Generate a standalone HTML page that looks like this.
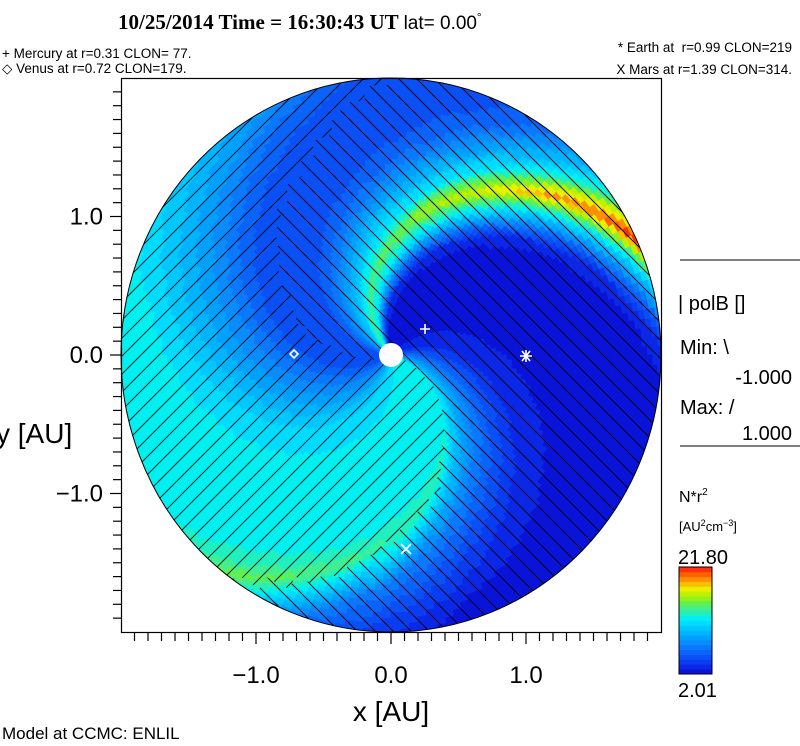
<!DOCTYPE html>
<html><head><meta charset="utf-8"><style>
body{margin:0;background:#fff;width:800px;height:746px;overflow:hidden;font-family:"Liberation Sans",sans-serif}
svg{position:absolute;left:0;top:0}
</style></head><body>
<svg id="chart" width="800" height="746" viewBox="0 0 800 746">
<defs>
<clipPath id="circ"><ellipse cx="391" cy="355" rx="270" ry="277"/></clipPath>
<clipPath id="clipA"></clipPath>
<clipPath id="clipB"></clipPath>
</defs>
<g id="cellsG" clip-path="url(#circ)"></g>
<g clip-path="url(#circ)">
<g id="hatchAG" clip-path="url(#clipA)"></g>
<g id="hatchBG" clip-path="url(#clipB)"></g>
</g>
<ellipse cx="391" cy="355" rx="270" ry="277" fill="none" stroke="#000" stroke-width="1"/>
<rect x="121.5" y="78.5" width="540" height="554" fill="none" stroke="#000" stroke-width="1.2"/>
<g id="ticksG" stroke="#000" stroke-width="1.2"></g>
<circle cx="391" cy="355" r="12" fill="#fff"/>
<g stroke="#fff" stroke-width="1.6" fill="none">
<path d="M420 329h10M425 324v10"/>
<path d="M294 350l4 4l-4 4l-4-4z"/>
<path d="M520 356h12M526 350v12M522 351l8 10M530 351l-8 10"/>
<path d="M401 544l10 10M411 544l-10 10"/>
</g>
<text x="118" y="29" font-family="Liberation Serif,serif" font-weight="bold" font-size="21">10/25/2014 Time = 16:30:43 UT <tspan font-family="Liberation Sans,sans-serif" font-weight="normal" font-size="19">lat= 0.00</tspan><tspan font-size="11" dy="-9">°</tspan></text>
<g font-size="13.5">
<text x="2" y="58">+ Mercury at r=0.31 CLON= 77.</text>
<text x="2" y="73">◇ Venus at r=0.72 CLON=179.</text>
<text x="792" y="52" text-anchor="end" xml:space="preserve">* Earth at  r=0.99 CLON=219</text>
<text x="792" y="74" text-anchor="end">X Mars at r=1.39 CLON=314.</text>
</g>
<g id="ticklabelsG" font-size="24" fill="#000"></g>
<text x="-4" y="443" font-size="28">y [AU]</text>
<text x="391" y="721" font-size="28" text-anchor="middle">x [AU]</text>
<g font-size="20">
<line x1="680" y1="260" x2="800" y2="260" stroke="#000"/>
<text x="678" y="310">| polB []</text>
<text x="680" y="354">Min: \</text>
<text x="792" y="384" text-anchor="end">-1.000</text>
<text x="680" y="414">Max: /</text>
<text x="792" y="440" text-anchor="end">1.000</text>
<line x1="680" y1="446" x2="800" y2="446" stroke="#000"/>
</g>
<text x="679" y="502" font-size="16">N*r<tspan font-size="10" dy="-7">2</tspan></text>
<text x="679" y="531" font-size="13">[AU<tspan font-size="9" dy="-5">2</tspan><tspan dy="5">cm</tspan><tspan font-size="9" dy="-5">−3</tspan><tspan dy="5">]</tspan></text>
<text x="678" y="564" font-size="20">21.80</text>
<text x="678" y="697" font-size="20">2.01</text>
<g id="cbarG"></g>
<text x="2" y="739" font-size="17">Model at CCMC: ENLIL</text>
</svg>
<script>
const psiDeg       = [0,  15, 30, 60, 90, 110,118,126,135, 144,152,165,180,200,215,230,250, 270, 290, 310, 325, 335, 343, 352,360];
const densityInner = [8,  5.5,3.5,2.5,2.5,3,  7,  12, 14,  11, 9.5,7,  5,  5,  5.5,7,  9,   11.5,12,  12,  12,  12,  12.5,9.5,8];
const densityOuter = [7,  4.5,2.8,2.5,2.5,3,  7,  12, 21.5,14, 10, 6.5,5,  5,  6,  8.5,10.5,12,  12.5,12.5,12.5,13.5,15.5,11, 7];
const vMin = 2.01, vMax = 21.8;
const levelColors = ['#0a14d8','#0a28e6','#0a3cf0','#0a50f5','#0a64fa','#0a78ff','#0a8cff','#00a0ff','#00b4ff','#00c8ff','#00dcff','#00f0f0','#20f0c0','#40f090','#60f050','#90f020','#c0f000','#e8f000','#f8c000','#ff9000','#ff6000','#ff3010'];
const xTicks = [-1.0, 0.0, 1.0];
const yTicks = [1.0, 0.0, -1.0];
const windK = 55;

(function(){
const NS='http://www.w3.org/2000/svg';
const cx=391, cy=355, sx=135, sy=138.5;
const X = v => cx + sx*v;
const Y = v => cy - sy*v;
function P(r,t){const a=t*Math.PI/180;return [X(r*Math.cos(a)),Y(r*Math.sin(a))];}
function profile(arr,p){p=((p%360)+360)%360;for(let i=0;i<psiDeg.length-1;i++){if(p>=psiDeg[i]&&p<=psiDeg[i+1]){const f=(p-psiDeg[i])/(psiDeg[i+1]-psiDeg[i]);return arr[i]+f*(arr[i+1]-arr[i]);}}return arr[0];}
function density(r,t){const p=t+windK*r;let u=Math.max(0,Math.min(1,(r-0.3)/1.7));u=Math.pow(u,1.5);return profile(densityInner,p)*(1-u)+profile(densityOuter,p)*u;}
function colorOf(v){let i=Math.floor((v-vMin)/(vMax-vMin)*levelColors.length);i=Math.max(0,Math.min(levelColors.length-1,i));return levelColors[i];}

const cellsEl=document.getElementById('cellsG'), cA=document.getElementById('clipA'), cB=document.getElementById('clipB');
const dr=0.04, dt=2;
for(let r=0.06;r<2.02;r+=dr){
  for(let t=0;t<360;t+=dt){
    const v=density(r+dr/2,t+dt/2);
    const pts=[P(r,t),P(r+dr,t),P(r+dr,t+dt),P(r,t+dt)].map(p=>p[0].toFixed(1)+','+p[1].toFixed(1)).join(' ');
    const c=colorOf(v);
    const pg=document.createElementNS(NS,'polygon');
    pg.setAttribute('points',pts);pg.setAttribute('fill',c);pg.setAttribute('stroke',c);pg.setAttribute('stroke-width','0.6');
    
    
    cellsEl.appendChild(pg);
  }
}
for(let r=0.05;r<2.02;r+=0.1){
  for(let t=0;t<360;t+=3){
    const p=(((t+1.5+windK*(r+0.05))%360)+360)%360;
    const pts=[P(r,t),P(r+0.1,t),P(r+0.1,t+3),P(r,t+3)].map(q=>q[0].toFixed(1)+','+q[1].toFixed(1)).join(' ');
    const pg=document.createElementNS(NS,'polygon');pg.setAttribute('points',pts);
    ((p>=200&&p<345)?cB:cA).appendChild(pg);
  }
}
function hatch(g,dir){
  for(let c=-700;c<900;c+=18){
    const l=document.createElementNS(NS,'line');
    if(dir>0){l.setAttribute('x1',c);l.setAttribute('y1',78);l.setAttribute('x2',c+560);l.setAttribute('y2',638);}
    else{l.setAttribute('x1',c);l.setAttribute('y1',638);l.setAttribute('x2',c+560);l.setAttribute('y2',78);}
    l.setAttribute('stroke','#000');l.setAttribute('stroke-width','0.9');
    
    
    g.appendChild(l);
  }
}
hatch(document.getElementById('hatchAG'),1);
hatch(document.getElementById('hatchBG'),-1);
const tk=document.getElementById('ticksG');
function ln(x1,y1,x2,y2){const l=document.createElementNS(NS,'line');l.setAttribute('x1',x1);l.setAttribute('y1',y1);l.setAttribute('x2',x2);l.setAttribute('y2',y2);


tk.appendChild(l);}
for(let i=-19;i<=19;i++){const x=X(i/10);const big=i%10===0;ln(x,633,x,big?644:641);}
for(let i=-19;i<=19;i++){const y=Y(i/10);const big=i%10===0;ln(121,y,big?110:113,y);}
const tl=document.getElementById('ticklabelsG');
xTicks.forEach(v=>{const t=document.createElementNS(NS,'text');t.setAttribute('x',X(v));t.setAttribute('y',683);t.setAttribute('text-anchor','middle');t.textContent=(v<0?'−':'')+Math.abs(v).toFixed(1);


tl.appendChild(t);});
yTicks.forEach(v=>{const t=document.createElementNS(NS,'text');t.setAttribute('x',103);t.setAttribute('y',Y(v)+8);t.setAttribute('text-anchor','end');t.textContent=(v<0?'−':'')+Math.abs(v).toFixed(1);


tl.appendChild(t);});
const cb=document.getElementById('cbarG');const n=levelColors.length, cbTop=567, h=107;
levelColors.forEach((c,i)=>{const r=document.createElementNS(NS,'rect');const y0=cbTop+h-(i+1)*h/n;r.setAttribute('x',679);r.setAttribute('y',y0.toFixed(2));r.setAttribute('width',33);r.setAttribute('height',(h/n+0.4).toFixed(2));r.setAttribute('fill',c);


cb.appendChild(r);});
const fr=document.createElementNS(NS,'rect');fr.setAttribute('x',679);fr.setAttribute('y',cbTop);fr.setAttribute('width',33);fr.setAttribute('height',h);fr.setAttribute('fill','none');fr.setAttribute('stroke','#000');


cb.appendChild(fr);
})();
</script>
</body></html>
